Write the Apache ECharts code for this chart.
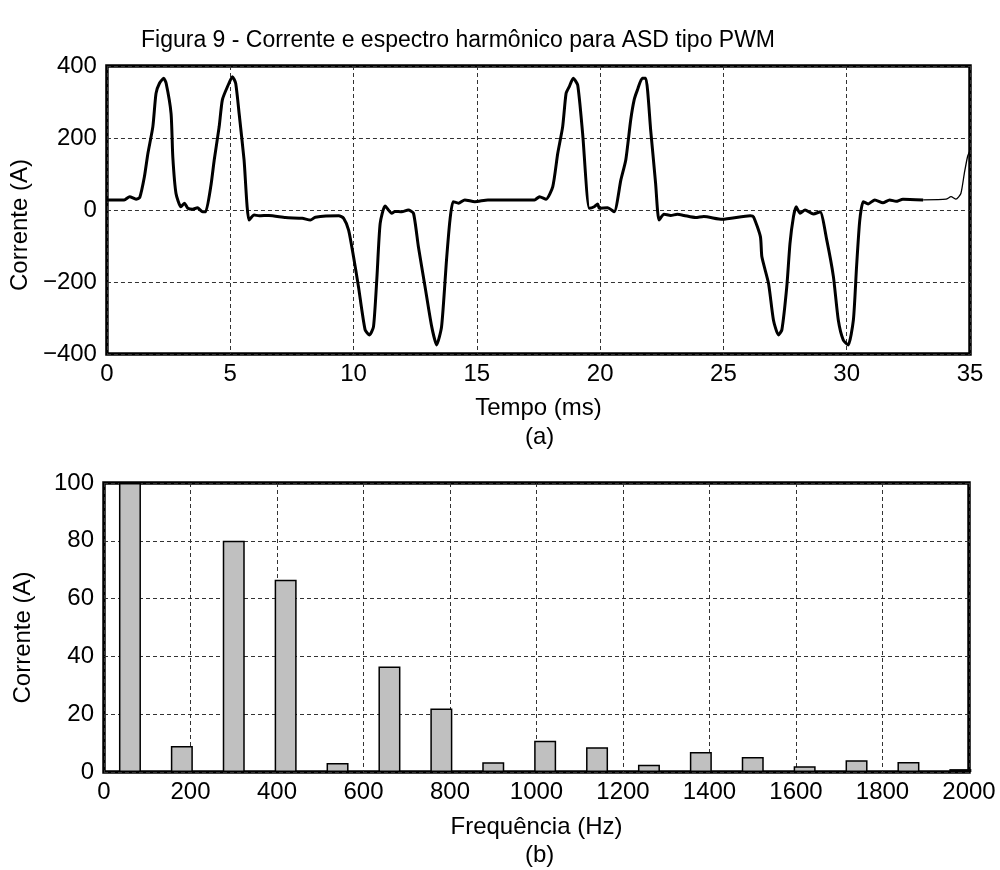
<!DOCTYPE html>
<html>
<head>
<meta charset="utf-8">
<title>Figura 9</title>
<script src="https://cdn.jsdelivr.net/npm/echarts@6/dist/echarts.min.js"></script>
<style>
  html, body { margin: 0; padding: 0; background: #fff; }
  #chart { width: 1000px; height: 870px; }
</style>
</head>
<body>
<div id="chart"></div>
<script>
// (a) corrente no tempo
var tempo = [0, 0.7, 0.92, 1.18, 1.33, 1.52, 1.66, 1.86, 1.99, 2.13, 2.3, 2.4, 2.6, 2.67, 2.8, 3.0, 3.14, 3.28, 3.47, 3.67, 3.88, 4.0,
  4.21, 4.35, 4.55, 4.68, 4.89, 5.09, 5.22, 5.36, 5.56, 5.76, 5.97, 6.17, 6.57, 7.24, 7.92, 8.25, 8.45, 9.4, 9.6, 9.8,
  10.0, 10.2, 10.47, 10.65, 10.81, 10.95, 11.08, 11.28, 11.55, 11.68, 11.95, 12.22, 12.43, 12.63, 12.9, 13.17, 13.37, 13.57,
  13.77, 13.91, 14.04, 14.26, 14.51, 14.92, 15.45, 17.34, 17.54, 17.81, 18.08, 18.28, 18.48, 18.62, 18.75, 18.91, 19.09,
  19.29, 19.56, 19.76, 19.9, 19.97, 20.3, 20.57, 20.84, 21.04, 21.24, 21.38, 21.51, 21.71, 21.85, 22.05, 22.25, 22.39,
  22.59, 22.86, 23.13, 23.4, 23.87, 24.2, 24.95, 26.09, 26.22, 26.5, 26.56, 26.83, 27.03, 27.23, 27.37, 27.57, 27.7,
  27.84, 27.95, 28.11, 28.31, 28.65, 28.92, 29.19, 29.46, 29.66, 29.86, 30.06, 30.27, 30.4, 30.53, 30.67, 30.87, 31.14,
  31.47, 31.74, 32.0, 32.28, 33.1];
var corrente = [28, 28, 37, 30, 35, 93, 157, 231, 324, 352, 366, 352, 268, 148, 46, 9, 19, 5, 2, 6, -5, -5,
  65, 139, 231, 306, 343, 370, 352, 268, 139, -28, -14, -16, -15, -21, -23, -28, -20, -16, -23, -56,
  -130, -213, -333, -347, -324, -185, -37, 11, -9, -4, -5, 0, -9, -102, -213, -324, -375, -324,
  -139, -28, 23, 19, 28, 23, 28, 28, 37, 30, 65, 157, 231, 324, 343, 366, 347,
  213, 5, 9, 17, 5, 6, -5, 83, 139, 250, 306, 333, 366, 366, 222, 74, -28,
  -12, -15, -12, -15, -21, -18, -26, -16, -19, -74, -130, -204, -306, -347, -333, -213, -93,
  -19, 9, -9, 0, -11, -5, -83, -185, -306, -361, -375, -306, -157, -28, 23, 17, 28,
  20, 28, 24, 30, 28];
// trecho final desenhado com traço fino
var tempoFim = [33.1, 34.03, 34.23, 34.43, 34.63, 34.77, 34.9, 35];
var correnteFim = [28, 30, 37, 30, 46, 102, 148, 165];

// (b) espectro harmonico
var frequencia = [60, 180, 300, 420, 540, 660, 780, 900, 1020, 1140, 1260, 1380, 1500, 1620, 1740, 1860, 1980];
var amplitude = [100, 9, 80, 66.5, 3.1, 36.5, 22, 3.4, 10.8, 8.6, 2.5, 6.9, 5.2, 2, 4.1, 3.5, 1];

var fonte = "'Liberation Sans', Arial, sans-serif";
var preto = "#000";

function pares(xs, ys) {
  return xs.map(function (x, i) {
    return [x, ys[i]];
  });
}

// sem separador de milhar, com sinal de menos tipografico
function numero(v) {
  return String(v).replace("-", "\u2212");
}

var grade = {
  show: true,
  lineStyle: { color: "#333", type: [4, 3], width: 1 }
};
var rotulo = { color: preto, fontFamily: fonte, fontSize: 24, formatter: numero };
var nome = { color: preto, fontFamily: fonte, fontSize: 24 };

var chart = echarts.init(document.getElementById("chart"), null, { renderer: "canvas" });

chart.setOption({
  animation: false,
  backgroundColor: "#fff",
  title: {
    text: "Figura 9 - Corrente e espectro harmônico para ASD tipo PWM",
    left: 453,
    top: 24,
    textAlign: "center",
    textStyle: { color: preto, fontFamily: fonte, fontSize: 23, fontWeight: "normal" }
  },
  graphic: [
    { type: "text", left: 525, top: 425, style: { text: "(a)", fill: preto, font: "24px " + fonte } },
    { type: "text", left: 525, top: 843, style: { text: "(b)", fill: preto, font: "24px " + fonte } }
  ],
  grid: [
    { left: 105, top: 66, width: 865, height: 288, show: true, borderColor: preto, borderWidth: 3.5 },
    { left: 104, top: 483, width: 865, height: 289, show: true, borderColor: preto, borderWidth: 3.5 }
  ],
  xAxis: [
    {
      gridIndex: 0,
      type: "value",
      min: 0,
      max: 35,
      interval: 5,
      axisLine: { show: false },
      axisTick: { show: false },
      axisLabel: Object.assign({ margin: 8 }, rotulo),
      splitLine: grade,
      name: "Tempo (ms)",
      nameLocation: "middle",
      nameGap: 42,
      nameTextStyle: nome
    },
    {
      gridIndex: 1,
      type: "value",
      min: 0,
      max: 2000,
      interval: 200,
      axisLine: { show: false },
      axisTick: { show: false },
      axisLabel: Object.assign({ margin: 8 }, rotulo),
      splitLine: grade,
      name: "Frequência (Hz)",
      nameLocation: "middle",
      nameGap: 43,
      nameTextStyle: nome
    }
  ],
  yAxis: [
    {
      gridIndex: 0,
      type: "value",
      min: -400,
      max: 400,
      interval: 200,
      axisLine: { show: false },
      axisTick: { show: false },
      axisLabel: Object.assign({ margin: 10 }, rotulo),
      splitLine: grade,
      name: "Corrente (A)",
      nameLocation: "middle",
      nameGap: 69,
      nameTextStyle: Object.assign({ padding: [0, 30, 0, 0] }, nome)
    },
    {
      gridIndex: 1,
      type: "value",
      min: 0,
      max: 100,
      interval: 20,
      axisLine: { show: false },
      axisTick: { show: false },
      axisLabel: Object.assign({ margin: 10 }, rotulo),
      splitLine: grade,
      name: "Corrente (A)",
      nameLocation: "middle",
      nameGap: 69,
      nameTextStyle: Object.assign({ padding: [0, 20, 0, 0] }, nome)
    }
  ],
  series: [
    {
      name: "Corrente",
      type: "line",
      xAxisIndex: 0,
      yAxisIndex: 0,
      data: pares(tempo, corrente),
      showSymbol: false,
      smooth: 0.2,
      lineStyle: { color: preto, width: 3 },
      z: 3
    },
    {
      name: "Corrente (fim)",
      type: "line",
      xAxisIndex: 0,
      yAxisIndex: 0,
      data: pares(tempoFim, correnteFim),
      showSymbol: false,
      smooth: 0.2,
      lineStyle: { color: preto, width: 1.3 },
      z: 3
    },
    {
      name: "Espectro",
      type: "bar",
      xAxisIndex: 1,
      yAxisIndex: 1,
      data: pares(frequencia, amplitude),
      barWidth: 22,
      itemStyle: { color: "#c0c0c0", borderColor: preto, borderWidth: 1.5 },
      z: 3
    }
  ]
});
</script>
</body>
</html>
